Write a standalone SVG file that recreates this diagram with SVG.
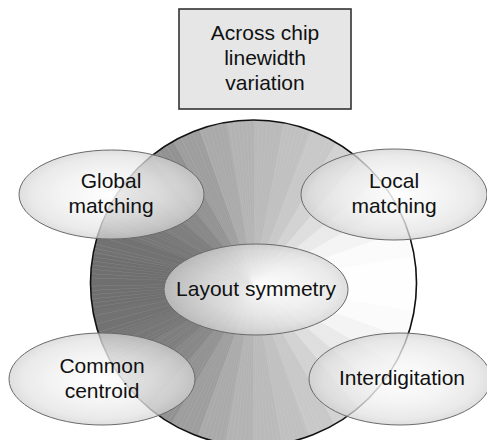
<svg xmlns="http://www.w3.org/2000/svg" width="487" height="440" viewBox="0 0 487 440">
  <style>
    .lbl { font-family: "Liberation Sans", Arial, sans-serif; font-size: 21px; fill: #111; text-anchor: middle; }
    .oval { fill: url(#ovalFill); stroke: #6a6a6a; stroke-width: 1; }
    /* each sector is a 10-degree dash of a thick ring around the centre
       (r = 81.5, circumference 512.08, 1 degree = 1.42244) */
    .sector circle { fill: none; stroke-width: 163; stroke-dasharray: 15.1 497; }
  </style>
  <defs>
    <radialGradient id="ovalFill" cx="0.5" cy="0.5" r="0.5">
      <stop offset="0" stop-color="#ffffff" stop-opacity="0.85"/>
      <stop offset="0.55" stop-color="#f0f0f0" stop-opacity="0.78"/>
      <stop offset="0.85" stop-color="#e2e2e2" stop-opacity="0.72"/>
      <stop offset="1" stop-color="#d2d2d2" stop-opacity="0.72"/>
    </radialGradient>
    <clipPath id="discClip">
      <circle cx="0" cy="0" r="163"/>
    </clipPath>
  </defs>

  <rect width="487" height="440" fill="#ffffff"/>

  <!-- Large disc with angular shading: light on the right, dark on the left -->
  <g id="disc">
    <g clip-path="url(#discClip)" transform="translate(253.5 283)">
      <g class="sector">
        <circle r="81.5" stroke="#fefefe" stroke-dashoffset="0"/>
        <circle r="81.5" stroke="#fbfbfb" stroke-dashoffset="-14.224"/>
        <circle r="81.5" stroke="#f4f4f4" stroke-dashoffset="-28.449"/>
        <circle r="81.5" stroke="#eaeaea" stroke-dashoffset="-42.673"/>
        <circle r="81.5" stroke="#dedede" stroke-dashoffset="-56.898"/>
        <circle r="81.5" stroke="#d2d2d2" stroke-dashoffset="-71.122"/>
        <circle r="81.5" stroke="#c8c8c8" stroke-dashoffset="-85.346"/>
        <circle r="81.5" stroke="#c0c0c0" stroke-dashoffset="-99.571"/>
        <circle r="81.5" stroke="#bababa" stroke-dashoffset="-113.795"/>
        <circle r="81.5" stroke="#b3b3b3" stroke-dashoffset="-128.020"/>
        <circle r="81.5" stroke="#aaaaaa" stroke-dashoffset="-142.244"/>
        <circle r="81.5" stroke="#9e9e9e" stroke-dashoffset="-156.468"/>
        <circle r="81.5" stroke="#929292" stroke-dashoffset="-170.693"/>
        <circle r="81.5" stroke="#878787" stroke-dashoffset="-184.917"/>
        <circle r="81.5" stroke="#7e7e7e" stroke-dashoffset="-199.142"/>
        <circle r="81.5" stroke="#777777" stroke-dashoffset="-213.366"/>
        <circle r="81.5" stroke="#727272" stroke-dashoffset="-227.590"/>
        <circle r="81.5" stroke="#6f6f6f" stroke-dashoffset="-241.815"/>
        <circle r="81.5" stroke="#6f6f6f" stroke-dashoffset="-256.039"/>
        <circle r="81.5" stroke="#727272" stroke-dashoffset="-270.264"/>
        <circle r="81.5" stroke="#777777" stroke-dashoffset="-284.488"/>
        <circle r="81.5" stroke="#7e7e7e" stroke-dashoffset="-298.712"/>
        <circle r="81.5" stroke="#878787" stroke-dashoffset="-312.937"/>
        <circle r="81.5" stroke="#929292" stroke-dashoffset="-327.161"/>
        <circle r="81.5" stroke="#9e9e9e" stroke-dashoffset="-341.386"/>
        <circle r="81.5" stroke="#aaaaaa" stroke-dashoffset="-355.610"/>
        <circle r="81.5" stroke="#b3b3b3" stroke-dashoffset="-369.834"/>
        <circle r="81.5" stroke="#bababa" stroke-dashoffset="-384.059"/>
        <circle r="81.5" stroke="#c0c0c0" stroke-dashoffset="-398.283"/>
        <circle r="81.5" stroke="#c8c8c8" stroke-dashoffset="-412.508"/>
        <circle r="81.5" stroke="#d2d2d2" stroke-dashoffset="-426.732"/>
        <circle r="81.5" stroke="#dedede" stroke-dashoffset="-440.956"/>
        <circle r="81.5" stroke="#eaeaea" stroke-dashoffset="-455.181"/>
        <circle r="81.5" stroke="#f4f4f4" stroke-dashoffset="-469.405"/>
        <circle r="81.5" stroke="#fbfbfb" stroke-dashoffset="-483.630"/>
        <circle r="81.5" stroke="#fefefe" stroke-dashoffset="-497.854"/>
      </g>
      <!-- fine radial spokes, 240 around the disc -->
      <circle r="81.5" fill="none" stroke="#ffffff" stroke-opacity="0.35" stroke-width="163" stroke-dasharray="0.16 1.9737"/>
    </g>
    <circle cx="253.5" cy="283" r="163" fill="none" stroke="#111" stroke-width="1.6"/>
  </g>

  <g id="across-chip">
    <rect x="179" y="9" width="172" height="100" fill="#e6e6e6" stroke="#333" stroke-width="1.6"/>
    <text class="lbl" x="265" y="40">Across chip</text>
    <text class="lbl" x="265" y="65">linewidth</text>
    <text class="lbl" x="265" y="90">variation</text>
  </g>

  <g id="global-matching">
    <ellipse class="oval" cx="111.5" cy="194.5" rx="92.5" ry="44.5"/>
    <text class="lbl" x="111" y="188">Global</text>
    <text class="lbl" x="111" y="213">matching</text>
  </g>

  <g id="local-matching">
    <ellipse class="oval" cx="394" cy="194.5" rx="93" ry="45.5"/>
    <text class="lbl" x="394" y="188">Local</text>
    <text class="lbl" x="394" y="213">matching</text>
  </g>

  <g id="layout-symmetry">
    <ellipse class="oval" cx="256" cy="289.5" rx="92" ry="45.5"/>
    <text class="lbl" x="256" y="296">Layout symmetry</text>
  </g>

  <g id="common-centroid">
    <ellipse class="oval" cx="102" cy="379" rx="93" ry="46"/>
    <text class="lbl" x="102" y="373">Common</text>
    <text class="lbl" x="102" y="398">centroid</text>
  </g>

  <g id="interdigitation">
    <ellipse class="oval" cx="400" cy="379" rx="91" ry="46"/>
    <text class="lbl" x="402" y="385">Interdigitation</text>
  </g>
</svg>
